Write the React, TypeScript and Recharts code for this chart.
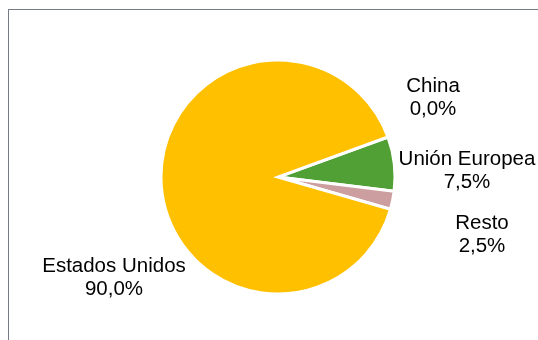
import { PieChart, Pie, Cell } from "recharts";

const regions = ["China", "Unión Europea", "Resto", "Estados Unidos"];
const shares = [0, 7.5, 2.5, 90];
const sliceColors = ["#7f7f7f", "#50a035", "#cc9e9f", "#ffc000"];

// where Excel dropped each data label, relative to the pie centre (first line baseline)
const labelOffsets: Record<string, [number, number]> = {
  China: [155, -85],
  "Unión Europea": [189, -12],
  Resto: [204, 52],
  "Estados Unidos": [-164, 95],
};

const data = regions.map((name, i) => ({ name, value: shares[i] }));

const formatPct = (p: number) => `${(p * 100).toFixed(1).replace(".", ",")}%`;

const renderLabel = (props: any) => {
  const { cx, cy, name, percent } = props;
  const [dx, dy] = labelOffsets[name] ?? [0, 0];
  const x = cx + dx;
  const y = cy + dy;
  return (
    <text
      x={x}
      y={y}
      textAnchor="middle"
      fill="#000"
      fontSize={20.5}
      fontFamily="'Liberation Sans', Arial, sans-serif"
    >
      <tspan x={x} y={y}>
        {name}
      </tspan>
      <tspan x={x} y={y + 23}>
        {formatPct(percent ?? 0)}
      </tspan>
    </text>
  );
};

const App = () => {
  return (
    <div
      style={{
        position: "fixed",
        left: 8,
        top: 9,
        width: 530,
        height: 331,
        borderTop: "1px solid #777b88",
        borderLeft: "1px solid #777b88",
        overflow: "hidden",
      }}
    >
      <PieChart width={530} height={331} margin={{ top: 0, right: 0, bottom: 0, left: 0 }}>
        <Pie
          data={data}
          dataKey="value"
          nameKey="name"
          cx={269}
          cy={167}
          outerRadius={117}
          startAngle={20}
          endAngle={-340}
          stroke="#ffffff"
          strokeWidth={3}
          label={renderLabel}
          labelLine={false}
          isAnimationActive={false}
        >
          {data.map((d, i) => (
            <Cell key={d.name} fill={sliceColors[i]} />
          ))}
        </Pie>
      </PieChart>
    </div>
  );
};

export default App;
